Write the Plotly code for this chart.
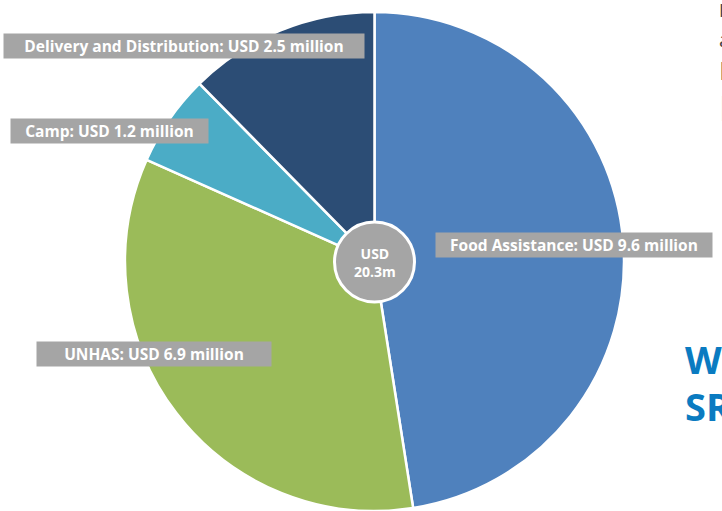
import plotly.graph_objects as go

categories = ["Food Assistance", "UNHAS", "Camp", "Delivery and Distribution"]
values = [9.6, 6.9, 1.2, 2.5]
colors = ["#4F81BD", "#9BBB59", "#4BACC6", "#2C4D75"]
label_texts = [
    "Food Assistance: USD 9.6 million",
    "UNHAS: USD 6.9 million",
    "Camp: USD 1.2 million",
    "Delivery and Distribution: USD 2.5 million",
]
total_text = "USD<br>20.3m"
edge_texts = ["I", "a", "I", "I"]

W, H = 722, 511
cx, cy, r = 374.5, 262, 250  # pixels
fig = go.Figure()
fig.add_trace(go.Pie(
    labels=categories, values=values, sort=False, direction="clockwise",
    rotation=0, marker=dict(colors=colors, line=dict(color="white", width=2.5)),
    textinfo="none", hoverinfo="label+value", showlegend=False,
    domain=dict(x=[(cx - r) / W, (cx + r) / W], y=[max(0, 1 - (cy + r) / H), 1 - (cy - r) / H]),
))
cr = 40
fig.add_trace(go.Pie(
    labels=["Total"], values=[1], sort=False,
    marker=dict(colors=["#A5A5A5"], line=dict(color="white", width=3)),
    textinfo="none", hoverinfo="none", showlegend=False,
    domain=dict(x=[(cx - cr) / W, (cx + cr) / W], y=[1 - (cy + cr) / H, 1 - (cy - cr) / H]),
))

fig.add_annotation(x=(cx) / W, y=1 - cy / H, xref="paper", yref="paper",
                   text=f"<b>{total_text}</b>", showarrow=False, align="center",
                   font=dict(family="Open Sans", size=14, color="white"))

# label boxes: (center x, center y, width) in px
boxes = [(574, 245, 276), (154, 354, 234), (110, 131, 197), (184, 46, 360)]
for t, (bx, by, bw) in zip(label_texts, boxes):
    fig.add_annotation(x=bx / W, y=1 - by / H, xref="paper", yref="paper",
                       text=f"<b>{t}</b>", showarrow=False, width=bw, height=24,
                       bgcolor="#A5A5A5", borderpad=0, align="center",
                       xanchor="center", yanchor="middle",
                       font=dict(family="Open Sans", size=15.5, color="white"))

# cropped text at right edge
for ty, t, fs, col in zip([10, 39, 70, 108], edge_texts, [18, 20, 26, 34],
                          ["#444444", "#444444", "#444444", "#999999"]):
    fig.add_annotation(x=717 / W, y=1 - ty / H, xref="paper", yref="paper",
                       text=t, showarrow=False, xanchor="left", yanchor="middle",
                       font=dict(family="Open Sans", size=fs, color=col))
fig.add_annotation(x=683 / W, y=1 - 359 / H, xref="paper", yref="paper",
                   text="<b>WFP</b>", showarrow=False, xanchor="left", yanchor="middle",
                   font=dict(family="Open Sans", size=38, color="#0A7BC1"))
fig.add_annotation(x=683 / W, y=1 - 406 / H, xref="paper", yref="paper",
                   text="<b>SRP</b>", showarrow=False, xanchor="left", yanchor="middle",
                   font=dict(family="Open Sans", size=38, color="#0A7BC1"))

fig.update_layout(width=W, height=H, margin=dict(l=0, r=0, t=0, b=0),
                  paper_bgcolor="white", plot_bgcolor="white")
fig.write_html("out.html", config={"displayModeBar": False},
               post_script="document.body.style.margin='0';document.body.style.overflow='hidden';")
